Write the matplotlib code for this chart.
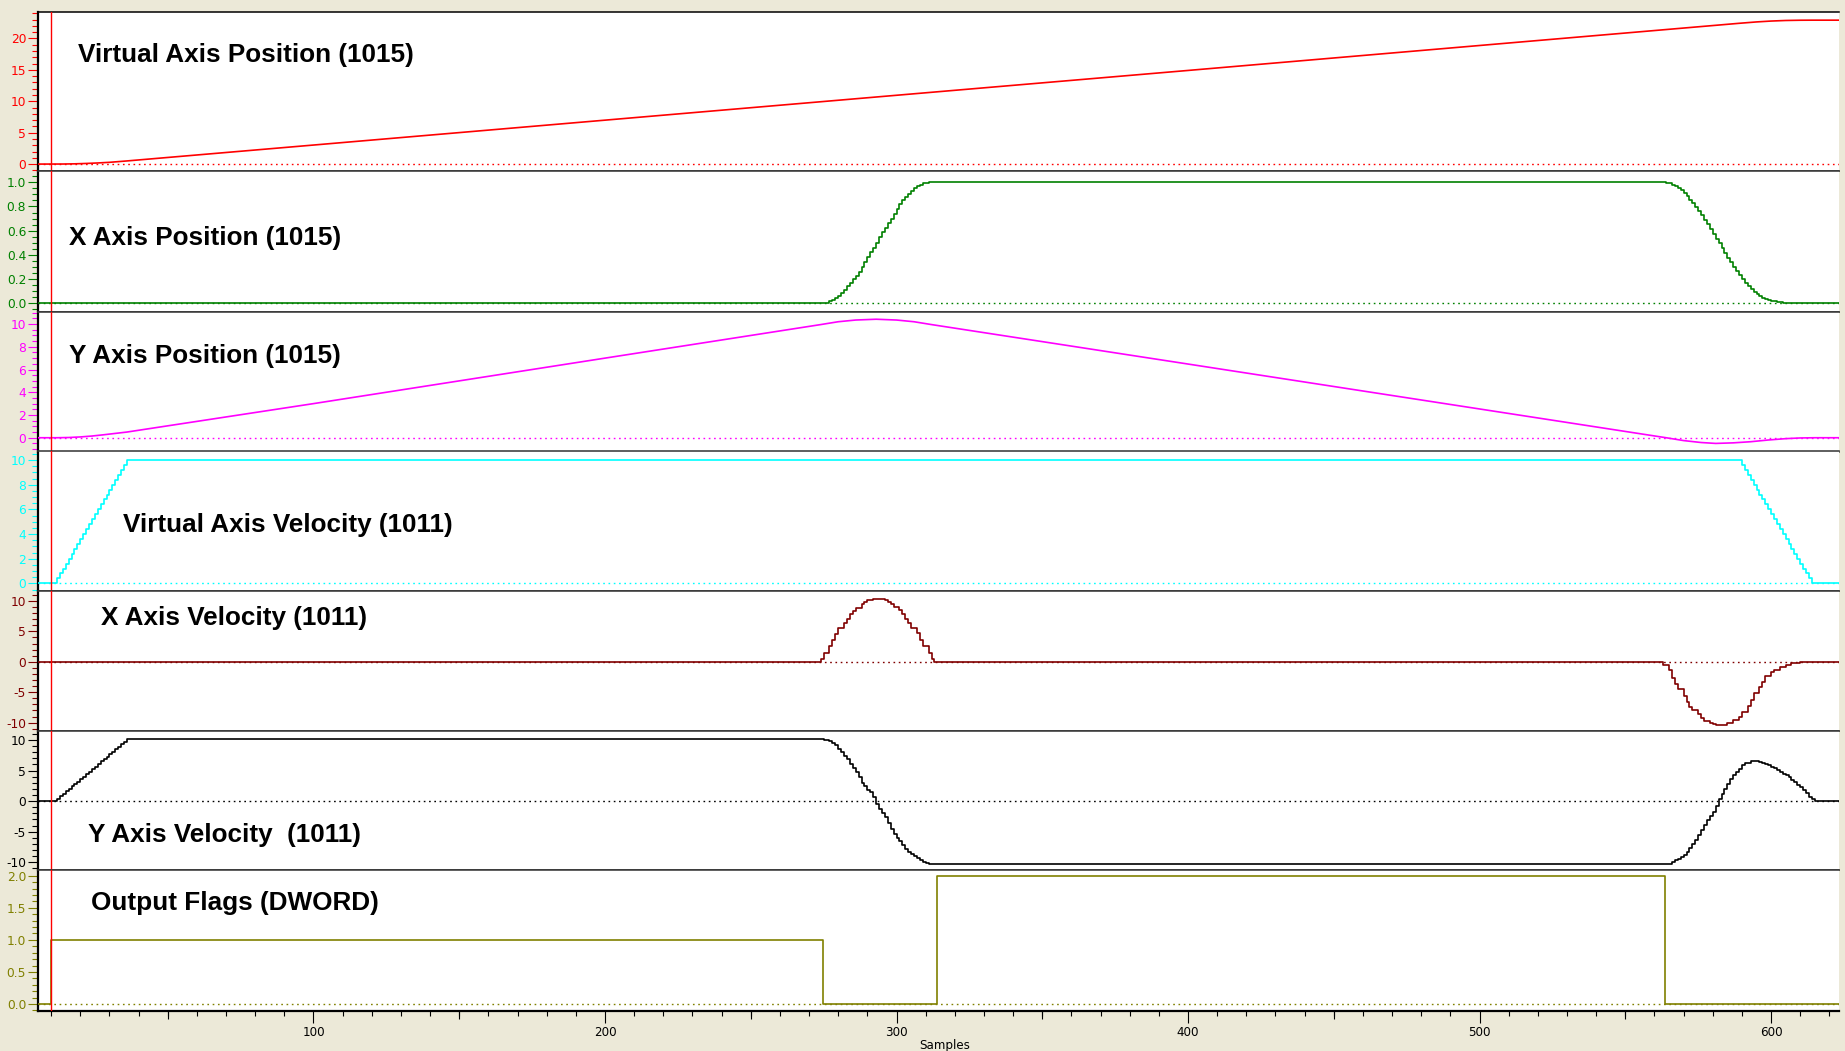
#!/usr/bin/env python3
"""
Seven stacked trace panels: virtual / X / Y axis position and velocity
plus the output flag word, all against the sample index.

Output:
    out.png
"""
from __future__ import annotations

import sys

import matplotlib
matplotlib.use("Agg")
import matplotlib.pyplot as plt
from matplotlib.ticker import FixedLocator, FormatStrFormatter, MultipleLocator

OUT_PNG = "out.png"

FIG_W, FIG_H = 1845, 1051
BG = "#ECE9D8"

SAMPLE_MIN, SAMPLE_MAX = 5.5, 623.3
CURSOR_SAMPLE = 10

# ---------------------------------------------------------------- data
# Virtual axis position (drawn as a plain line)
VPOS_SAMPLES = [5.5, 14, 18, 22, 26, 30, 36, 100, 200, 300, 400, 500,
                589, 595, 600, 605, 610, 614, 623.3]
VPOS_VALUES = [0.0, 0.01, 0.04, 0.1, 0.18, 0.28, 0.5, 3.03, 6.99, 10.95,
               14.9, 18.87, 22.4, 22.62, 22.76, 22.85, 22.89, 22.9, 22.9]

# X axis position, one value per sample through each move
XPOS_UP_START = 276
XPOS_UP = [0.0, 0.02, 0.03, 0.045, 0.06, 0.085, 0.11, 0.14, 0.17, 0.2,
           0.225, 0.26, 0.3, 0.34, 0.38, 0.42, 0.46, 0.5, 0.55, 0.585,
           0.62, 0.66, 0.7, 0.74, 0.78, 0.82, 0.85, 0.88, 0.905, 0.925,
           0.95, 0.965, 0.98, 0.99, 0.995, 1.0, 1.0]
XPOS_DOWN_START = 563
XPOS_DOWN = [0.998, 0.996, 0.991, 0.981, 0.967, 0.949, 0.932, 0.91, 0.885,
             0.857, 0.826, 0.796, 0.763, 0.727, 0.69, 0.653, 0.614, 0.575,
             0.535, 0.495, 0.456, 0.416, 0.377, 0.338, 0.301, 0.265, 0.23,
             0.199, 0.167, 0.139, 0.115, 0.095, 0.075, 0.059, 0.047, 0.038,
             0.029, 0.022, 0.017, 0.013, 0.009, 0.006, 0.004, 0.002, 0.001,
             0.0]

# Y axis position (plain line)
YPOS_SAMPLES = [5.5, 12, 16, 20, 24, 28, 32, 36, 100, 200, 274, 280, 286,
                293, 300, 306, 312, 400, 500, 564, 570, 576, 581, 587, 593,
                599, 605, 610, 615, 623.3]
YPOS_VALUES = [0.0, 0.0, 0.02, 0.07, 0.15, 0.26, 0.38, 0.5, 3.0, 7.0, 9.95,
               10.2, 10.35, 10.42, 10.35, 10.2, 9.95, 6.48, 2.53, 0.0, -0.25,
               -0.42, -0.5, -0.45, -0.35, -0.2, -0.08, -0.02, 0.0, 0.0]

# Virtual axis velocity ramps
VVEL_UP_START = 11
VVEL_UP = [0.0, 0.4, 0.8, 1.2, 1.6, 2.0, 2.4, 2.8, 3.2, 3.6, 4.0, 4.4, 4.8,
           5.2, 5.6, 6.0, 6.4, 6.8, 7.2, 7.6, 8.0, 8.4, 8.8, 9.2, 9.6, 10.0]
VVEL_DOWN_START = 589
VVEL_DOWN = [10.0, 9.6, 9.2, 8.8, 8.4, 8.0, 7.6, 7.2, 6.8, 6.4, 6.0, 5.6,
             5.2, 4.8, 4.4, 4.0, 3.6, 3.2, 2.8, 2.4, 2.0, 1.6, 1.2, 0.8,
             0.4, 0.0]

# X axis velocity, the two moves
XVEL_MOVE1_START = 274
XVEL_MOVE1 = [0.5, 1.5, 1.5, 2.6, 3.6, 4.5, 5.5, 5.5, 6.3, 7.1, 7.8, 8.4,
              8.9, 8.9, 9.5, 9.9, 10.1, 10.1, 10.4, 10.4, 10.4, 10.4, 10.1,
              9.9, 9.5, 9.0, 9.0, 8.5, 7.8, 7.1, 6.3, 5.5, 5.5, 4.7, 3.6,
              2.6, 2.6, 1.5, 0.5, 0.0]
XVEL_MOVE2_START = 563
XVEL_MOVE2 = [-0.5, -0.5, -1.4, -2.6, -3.7, -4.5, -4.5, -5.6, -6.6, -7.4,
              -8.0, -8.0, -8.6, -9.3, -9.8, -9.8, -10.0, -10.2, -10.4, -10.4,
              -10.4, -10.4, -10.1, -10.1, -9.6, -9.6, -9.0, -8.2, -8.2, -7.3,
              -6.3, -5.2, -5.2, -4.2, -3.3, -2.4, -2.4, -1.6, -1.3, -1.3,
              -0.9, -0.8, -0.5, -0.5, -0.2, -0.2, -0.2, 0.0]

# Y axis velocity
YVEL_UP_START = 11
YVEL_UP = [0.0, 0.4, 0.8, 1.2, 1.6, 2.0, 2.4, 2.8, 3.2, 3.6, 4.0, 4.4, 4.8,
           5.2, 5.6, 6.0, 6.5, 6.9, 7.3, 7.7, 8.1, 8.5, 8.9, 9.3, 9.7, 10.1]
YVEL_MOVE1_START = 274
YVEL_MOVE1 = [10.1, 10.05, 10.0, 9.8, 9.5, 9.1, 8.6, 8.0, 7.4, 6.9, 6.1,
              5.4, 4.8, 3.9, 3.0, 2.4, 1.9, 1.5, 0.6, -0.4, -1.3, -1.9,
              -2.6, -3.6, -4.6, -5.3, -6.0, -6.5, -7.1, -7.8, -8.3, -8.7,
              -9.0, -9.3, -9.7, -9.9, -10.1, -10.2, -10.3]
YVEL_MOVE2_START = 565
YVEL_MOVE2 = [-10.2, -10.0, -9.7, -9.4, -9.1, -8.8, -8.3, -7.7, -7.0, -6.3,
              -5.6, -4.7, -3.9, -3.1, -2.4, -1.7, -0.8, 0.3, 1.1, 2.0, 2.8,
              3.6, 4.2, 4.7, 5.3, 5.9, 6.2, 6.3, 6.5, 6.6, 6.5, 6.4, 6.3,
              6.1, 5.9, 5.6, 5.4, 5.1, 4.8, 4.5, 4.2, 3.9, 3.5, 3.1, 2.7,
              2.3, 1.8, 1.3, 0.7, 0.3, 0.0]

# Output flags word (held value from each sample)
FLAG_SAMPLES = [5.5, 10, 274.8, 313.8, 563.5, 623.3]
FLAG_VALUES = [0, 1, 0, 2, 0, 0]

# ---------------------------------------------------------------- panels
TITLES = [
    "Virtual Axis Position (1015)",
    "X Axis Position (1015)",
    "Y Axis Position (1015)",
    "Virtual Axis Velocity (1011)",
    "X Axis Velocity (1011)",
    "Y Axis Velocity  (1011)",
    "Output Flags (DWORD)",
]
COLORS = ["#FF0000", "#008000", "#FF00FF", "#00FFFF", "#800000", "#000000",
          "#808000"]
# pixel rows of the panel borders, top to bottom
EDGES_PX = [12, 171, 311.5, 451.5, 591, 731, 870, 1011]
# title left edge and baseline, in pixels
TITLE_PX = [(77.7, 62), (69, 244.5), (69, 362.8), (123.3, 532),
            (101, 624.5), (88.3, 842), (90.7, 910.3)]
YLIMS = [(-1.1, 24.2), (-0.068, 1.093), (-1.21, 11.1), (-0.62, 10.69),
         (-11.37, 11.64), (-11.26, 11.47), (-0.109, 2.089)]
Y_MAJOR = [5, 0.2, 2, 2, 5, 5, 0.5]
Y_MINOR = [1, 0.05, 0.5, 0.5, 1, 1, 0.1]
Y_FMT = ["%d", "%.1f", "%d", "%d", "%d", "%d", "%.1f"]
Y_LABEL_RANGE = [(0, 20), (0, 1), (0, 10), (0, 10), (-10, 10), (-10, 10),
                 (0, 2)]


def run(start, values):
    return list(range(start, start + len(values))), list(values)


def build_series():
    s_up, v_up = run(XPOS_UP_START, XPOS_UP)
    s_dn, v_dn = run(XPOS_DOWN_START, XPOS_DOWN)
    xpos = ([SAMPLE_MIN] + s_up + s_dn + [SAMPLE_MAX],
            [0.0] + v_up + v_dn + [0.0])

    s_up, v_up = run(VVEL_UP_START, VVEL_UP)
    s_dn, v_dn = run(VVEL_DOWN_START, VVEL_DOWN)
    vvel = ([SAMPLE_MIN] + s_up + s_dn + [SAMPLE_MAX],
            [0.0] + v_up + v_dn + [0.0])

    s1, v1 = run(XVEL_MOVE1_START, XVEL_MOVE1)
    s2, v2 = run(XVEL_MOVE2_START, XVEL_MOVE2)
    xvel = ([SAMPLE_MIN] + s1 + s2 + [SAMPLE_MAX], [0.0] + v1 + v2 + [0.0])

    s0, v0 = run(YVEL_UP_START, YVEL_UP)
    s1, v1 = run(YVEL_MOVE1_START, YVEL_MOVE1)
    s2, v2 = run(YVEL_MOVE2_START, YVEL_MOVE2)
    yvel = ([SAMPLE_MIN] + s0 + s1 + s2 + [SAMPLE_MAX],
            [0.0] + v0 + v1 + v2 + [0.0])

    return [
        (VPOS_SAMPLES, VPOS_VALUES, "default"),
        (*xpos, "steps-post"),
        (YPOS_SAMPLES, YPOS_VALUES, "default"),
        (*vvel, "steps-post"),
        (*xvel, "steps-post"),
        (*yvel, "steps-post"),
        (FLAG_SAMPLES, FLAG_VALUES, "steps-post"),
    ]


def main() -> int:
    plt.rcParams.update({
        "font.family": ["DejaVu Sans"],
        "axes.linewidth": 1.0,
    })

    fig = plt.figure(figsize=(FIG_W / 100, FIG_H / 100), dpi=100)
    fig.patch.set_facecolor(BG)

    left = 38 / FIG_W
    width = (1839 - 38) / FIG_W
    series = build_series()
    axes = []

    for i, (xs, ys, style) in enumerate(series):
        top_px, bot_px = EDGES_PX[i], EDGES_PX[i + 1]
        ax = fig.add_axes([left, 1 - bot_px / FIG_H, width,
                           (bot_px - top_px) / FIG_H])
        ax.set_facecolor("white")
        color = COLORS[i]

        ax.axhline(0, color=color, linestyle=(0, (1.2, 2.6)), linewidth=1.0,
                   zorder=1)
        ax.plot(xs, ys, color=color, linewidth=1.2, drawstyle=style,
                zorder=3)
        ax.axvline(CURSOR_SAMPLE, color="#FF0000", linewidth=1.0, zorder=4)

        ax.set_xlim(SAMPLE_MIN, SAMPLE_MAX)
        ax.set_ylim(*YLIMS[i])

        lo, hi = Y_LABEL_RANGE[i]
        step = Y_MAJOR[i]
        n = int(round((hi - lo) / step))
        ax.yaxis.set_major_locator(FixedLocator([lo + k * step
                                                 for k in range(n + 1)]))
        ax.yaxis.set_minor_locator(MultipleLocator(Y_MINOR[i]))
        ax.yaxis.set_major_formatter(FormatStrFormatter(Y_FMT[i]))
        ax.tick_params(axis="y", which="major", direction="out", length=7.5,
                       width=0.8, color=color, labelcolor=color,
                       labelsize=8.8, pad=1)
        ax.tick_params(axis="y", which="minor", direction="out", length=4,
                       width=0.8, color=color)

        for side in ("top", "bottom"):
            ax.spines[side].set_color("#333333")
            ax.spines[side].set_linewidth(1.1)
        ax.spines["left"].set_color("black")
        ax.spines["left"].set_linewidth(1.6)
        ax.spines["right"].set_visible(False)

        if i < len(series) - 1:
            ax.tick_params(axis="x", which="both", bottom=False,
                           labelbottom=False)
        axes.append(ax)

        tx, ty = TITLE_PX[i]
        fig.text(tx / FIG_W, 1 - ty / FIG_H, TITLES[i],
                 family=["Liberation Sans", "DejaVu Sans"],
                 fontweight="bold", fontsize=18.8, color="black",
                 ha="left", va="baseline")

    axes[0].spines["top"].set_color("black")

    # sample axis on the bottom panel: labels every 100, ticks every 10
    bottom_ax = axes[-1]
    bottom_ax.spines["bottom"].set_color("black")
    bottom_ax.spines["bottom"].set_linewidth(1.6)
    bottom_ax.xaxis.set_major_locator(MultipleLocator(100))
    bottom_ax.xaxis.set_minor_locator(MultipleLocator(10))
    bottom_ax.xaxis.set_major_formatter(FormatStrFormatter("%d"))
    bottom_ax.tick_params(axis="x", which="major", direction="out",
                          length=8.5, width=0.8, labelsize=8.6, pad=2)
    bottom_ax.tick_params(axis="x", which="minor", direction="out",
                          length=3.6, width=0.8)
    mid = bottom_ax.secondary_xaxis("bottom")
    mid.set_xticks([50, 150, 250, 350, 450, 550])
    mid.tick_params(axis="x", direction="out", length=6, width=0.8,
                    labelbottom=False)
    mid.spines["bottom"].set_visible(False)

    fig.text(945 / FIG_W, 1 - 1045 / FIG_H, "Samples", fontsize=8.6,
             ha="center", va="center")

    fig.savefig(OUT_PNG, dpi=100, facecolor=fig.get_facecolor())
    plt.close(fig)
    print(f"Wrote {OUT_PNG}")
    return 0


if __name__ == "__main__":
    sys.exit(main())
